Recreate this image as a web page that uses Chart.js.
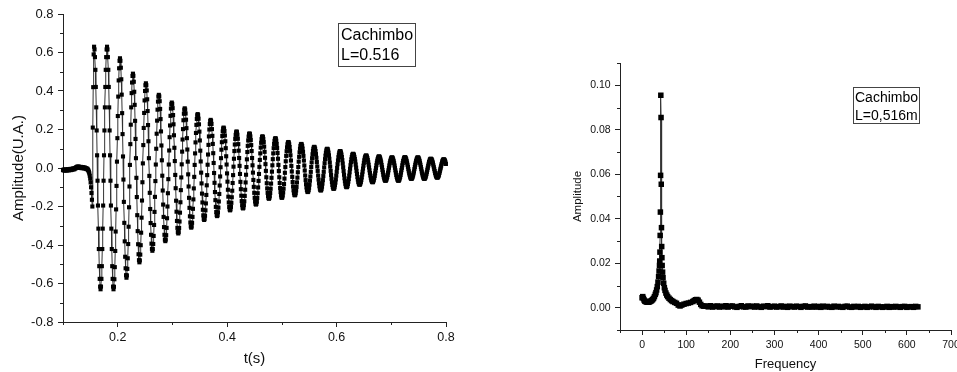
<!DOCTYPE html>
<html><head><meta charset="utf-8">
<script src="https://cdn.jsdelivr.net/npm/chart.js@4.4.0/dist/chart.umd.min.js"></script>
<style>
html,body{margin:0;padding:0;background:#fff;overflow:hidden;width:957px;height:372px}
#c1{position:absolute;left:0;top:0;width:480px;height:372px}
#c2{position:absolute;left:480px;top:0;width:477px;height:372px}
</style></head><body>
<canvas id="c1" width="480" height="372"></canvas>
<canvas id="c2" width="477" height="372"></canvas>
<script>
// ---------- time-domain signal (left) ----------
const SAMPLE_START = 0.1;      // s
const SAMPLE_STEP = 0.000789;  // s
const preTriggerAmp = [
-0.010,-0.012,-0.008,-0.011,-0.014,-0.010,-0.007,-0.012,-0.009,-0.011,
-0.013,-0.008,-0.006,-0.010,-0.012,-0.009,-0.005,-0.008,-0.011,-0.007,
-0.004,-0.006,-0.009,-0.005,-0.002,-0.004,-0.007,-0.003,0.000,-0.002,
0.002,0.004,0.001,0.006,0.008,0.005,0.003,0.007,0.004,0.001,
0.003,0.006,0.002,-0.001,0.002,0.005,0.003,0.000,-0.002,0.001,
0.003,0.000,-0.003,-0.001,-0.004,-0.006,-0.003,-0.007,-0.010,-0.014,
-0.020,-0.028,-0.040,-0.055,-0.075,-0.100,-0.130,-0.165,-0.200,0.210,0.420,0.590];
const ringAmp = [
0.63,0.616,0.576,0.51,0.421,0.315,0.195,0.066,-0.066,-0.195,-0.315,-0.421,-0.51,-0.576,-0.616,
-0.63,-0.616,-0.576,-0.51,-0.421,-0.315,-0.195,-0.066,0.066,0.195,0.315,0.421,0.51,0.576,0.616,
0.63,0.616,0.576,0.51,0.421,0.315,0.195,0.066,-0.066,-0.195,-0.315,-0.421,-0.51,-0.576,-0.616,
-0.63,-0.617,-0.578,-0.515,-0.431,-0.33,-0.215,-0.093,0.033,0.155,0.27,0.371,0.455,0.518,0.557,
0.57,0.557,0.521,0.461,0.381,0.285,0.176,0.06,-0.06,-0.176,-0.285,-0.381,-0.461,-0.521,-0.557,
-0.57,-0.558,-0.524,-0.469,-0.395,-0.305,-0.204,-0.096,0.016,0.124,0.225,0.315,0.389,0.444,0.478,
0.49,0.479,0.448,0.396,0.328,0.245,0.151,0.051,-0.051,-0.151,-0.245,-0.328,-0.396,-0.448,-0.479,
-0.49,-0.48,-0.45,-0.401,-0.336,-0.258,-0.169,-0.074,0.024,0.119,0.208,0.286,0.351,0.4,0.43,
0.44,0.43,0.403,0.357,0.296,0.223,0.139,0.051,-0.041,-0.129,-0.213,-0.286,-0.347,-0.393,-0.42,
-0.43,-0.421,-0.395,-0.353,-0.296,-0.228,-0.15,-0.068,0.018,0.1,0.178,0.246,0.303,0.345,0.371,
0.38,0.372,0.347,0.307,0.254,0.19,0.117,0.04,-0.04,-0.117,-0.19,-0.254,-0.307,-0.347,-0.372,
-0.38,-0.372,-0.349,-0.311,-0.261,-0.2,-0.131,-0.058,0.018,0.091,0.16,0.221,0.271,0.309,0.332,
0.34,0.333,0.311,0.275,0.227,0.17,0.105,0.036,-0.036,-0.105,-0.17,-0.227,-0.275,-0.311,-0.333,
-0.34,-0.333,-0.312,-0.278,-0.232,-0.178,-0.115,-0.049,0.019,0.085,0.148,0.202,0.248,0.282,0.303,
0.31,0.303,0.283,0.251,0.207,0.155,0.096,0.033,-0.033,-0.096,-0.155,-0.207,-0.251,-0.283,-0.303,
-0.31,-0.304,-0.285,-0.254,-0.212,-0.163,-0.106,-0.046,0.016,0.076,0.133,0.182,0.224,0.255,0.274,
0.28,0.274,0.256,0.227,0.189,0.143,0.09,0.034,-0.024,-0.08,-0.133,-0.179,-0.217,-0.246,-0.264,
-0.27,-0.264,-0.248,-0.22,-0.184,-0.14,-0.09,-0.037,0.017,0.07,0.12,0.164,0.2,0.228,0.244,
0.25,0.245,0.229,0.202,0.167,0.125,0.077,0.026,-0.026,-0.077,-0.125,-0.167,-0.202,-0.229,-0.245,
-0.25,-0.245,-0.23,-0.206,-0.174,-0.135,-0.091,-0.044,0.004,0.051,0.095,0.134,0.166,0.19,0.205,
0.21,0.205,0.192,0.169,0.139,0.103,0.061,0.018,-0.028,-0.071,-0.113,-0.149,-0.179,-0.202,-0.215,
-0.22,-0.215,-0.202,-0.181,-0.152,-0.118,-0.078,-0.037,0.007,0.048,0.088,0.122,0.151,0.172,0.185,
0.19,0.186,0.173,0.152,0.124,0.09,0.052,0.011,-0.031,-0.072,-0.11,-0.144,-0.172,-0.193,-0.206,
-0.21,-0.206,-0.193,-0.173,-0.145,-0.113,-0.075,-0.035,0.005,0.045,0.083,0.115,0.143,0.163,0.176,
0.18,0.176,0.164,0.145,0.119,0.088,0.052,0.014,-0.024,-0.062,-0.098,-0.129,-0.155,-0.174,-0.186,
-0.19,-0.186,-0.175,-0.156,-0.131,-0.101,-0.067,-0.031,0.006,0.042,0.076,0.106,0.131,0.15,0.161,
0.165,0.161,0.151,0.134,0.111,0.084,0.053,0.02,-0.015,-0.048,-0.079,-0.106,-0.129,-0.146,-0.156,
-0.16,-0.156,-0.147,-0.13,-0.108,-0.081,-0.051,-0.019,0.014,0.046,0.076,0.103,0.125,0.141,0.151,
0.155,0.152,0.142,0.125,0.104,0.078,0.048,0.016,-0.016,-0.048,-0.078,-0.104,-0.125,-0.142,-0.152,
-0.155,-0.152,-0.143,-0.127,-0.107,-0.083,-0.055,-0.025,0.005,0.035,0.063,0.087,0.107,0.123,0.132,
0.135,0.132,0.123,0.109,0.089,0.066,0.039,0.011,-0.018,-0.046,-0.073,-0.096,-0.116,-0.13,-0.139,
-0.142,-0.139,-0.131,-0.117,-0.098,-0.075,-0.05,-0.022,0.005,0.033,0.058,0.081,0.1,0.114,0.122,
0.125,0.122,0.114,0.101,0.084,0.063,0.039,0.013,-0.013,-0.039,-0.063,-0.084,-0.101,-0.114,-0.122,
-0.125,-0.122,-0.115,-0.103,-0.086,-0.066,-0.044,-0.02,0.005,0.029,0.051,0.071,0.088,0.1,0.107,
0.11,0.107,0.1,0.088,0.072,0.053,0.031,0.008,-0.015,-0.039,-0.06,-0.079,-0.095,-0.107,-0.114,
-0.117,-0.115,-0.108,-0.097,-0.081,-0.063,-0.042,-0.02,0.003,0.025,0.046,0.064,0.079,0.091,0.098,
0.1,0.098,0.091,0.08,0.066,0.048,0.028,0.007,-0.015,-0.036,-0.056,-0.074,-0.088,-0.099,-0.106,
-0.108,-0.106,-0.1,-0.089,-0.076,-0.059,-0.04,-0.02,0,0.02,0.039,0.056,0.069,0.08,0.086,
0.088,0.086,0.08,0.07,0.057,0.041,0.023,0.004,-0.016,-0.035,-0.053,-0.069,-0.082,-0.092,-0.098,
-0.1,-0.098,-0.093,-0.083,-0.071,-0.057,-0.04,-0.022,-0.004,0.014,0.031,0.045,0.057,0.067,0.072,
0.074,0.072,0.067,0.058,0.047,0.034,0.018,0.002,-0.015,-0.031,-0.047,-0.06,-0.072,-0.08,-0.085,
-0.087,-0.085,-0.08,-0.072,-0.062,-0.049,-0.034,-0.019,-0.003,0.012,0.027,0.04,0.05,0.058,0.063,
0.065,0.064,0.059,0.052,0.042,0.03,0.017,0.003,-0.012,-0.026,-0.039,-0.051,-0.061,-0.068,-0.072,
-0.074,-0.073,-0.068,-0.061,-0.052,-0.041,-0.028,-0.014,0,0.014,0.027,0.038,0.047,0.054,0.059,
0.06,0.059,0.055,0.048,0.039,0.029,0.016,0.004,-0.01,-0.022,-0.035,-0.045,-0.054,-0.061,-0.065,
-0.066,-0.065,-0.061,-0.054,-0.046,-0.036,-0.024,-0.012,0.001,0.013,0.025,0.035,0.043,0.05,0.054,
0.055,0.054,0.05,0.043,0.035,0.025,0.013,0.001,-0.012,-0.024,-0.036,-0.046,-0.054,-0.061,-0.065,
-0.066,-0.065,-0.061,-0.054,-0.046,-0.036,-0.024,-0.011,0.001,0.014,0.026,0.036,0.044,0.051,0.055,
0.056,0.055,0.051,0.045,0.037,0.028,0.017,0.006,-0.006,-0.017,-0.028,-0.037,-0.045,-0.051,-0.055,
-0.056,-0.055,-0.051,-0.045,-0.038,-0.028,-0.018,-0.006,0.005,0.017,0.027,0.037,0.044,0.05,0.054,
0.055,0.054,0.05,0.044,0.037,0.027,0.017,0.005,-0.006,-0.018,-0.028,-0.038,-0.045,-0.051,-0.055,
-0.056,-0.055,-0.052,-0.046,-0.039,-0.03,-0.02,-0.009,0.001,0.012,0.022,0.031,0.038,0.044,0.047,
0.048,0.047,0.044,0.039,0.032,0.024,0.014,0.004,-0.006,-0.016,-0.026,-0.034,-0.041,-0.046,-0.049,
-0.05,-0.049,-0.046,-0.041,-0.035,-0.026,-0.017,-0.007,0.002,0.012,0.021,0.029,0.036,0.041,0.044,
0.045,0.044,0.041,0.036,0.029,0.021];

// ---------- spectrum (right) ----------
const fftFreq = [0,1.5,3,4.5,6,
8,10,12,14,16,18,20,22,24,26,28,30,
31.5,33,34.5,36,37.5,38.5,39.5,
40,40.5,41,41.5,42,42.5,43,43.5,44,44.5,45,45.5,
46.5,47.5,49,50.5,52,54,56,58,
61,64,67,70,74,78,82,86,
90,95,100,105,110,115,118,121,124,127,130,133,136,140,
145,150,155,160,165,170,175,180,185,190,
195,200,205,210,215,220,225,230,235,240,
245,250,255,260,265,270,275,280,285,290,
295,300,305,310,315,320,325,330,335,340,
345,350,355,360,365,370,375,380,385,390,
395,400,405,410,415,420,425,430,435,440,
445,450,455,460,465,470,475,480,485,490,
495,500,505,510,515,520,525,530,535,540,
545,550,555,560,565,570,575,580,585,590,
595,600,605,610,615,620,625];
const fftAmp = [0.0045,0.005,0.0042,0.0035,0.003,
0.0028,0.0026,0.0025,0.0025,0.0026,0.0028,0.003,0.0033,0.0037,0.0042,0.005,0.006,
0.0068,0.008,0.0095,0.0115,0.014,0.0165,0.019,
0.021,0.025,0.0325,0.043,0.0595,0.0955,0.0855,0.0555,0.036,0.0275,0.0225,0.019,
0.016,0.0135,0.011,0.009,0.0078,0.0066,0.0057,0.005,
0.0043,0.0037,0.0032,0.0028,0.0024,0.002,0.0012,0.0008,
0.0012,0.0016,0.0019,0.0021,0.0024,0.0028,0.0032,0.0036,0.0037,0.0034,0.0025,0.0015,0.0009,0.0007,
0.0008,0.0004,0.0009,0.0003,0.0006,0.0008,0.0003,0.0007,0.0004,0.0009,
0.0003,0.0007,0.0008,0.0004,0.0002,0.0006,0.0009,0.0004,0.0003,0.0008,
0.0005,0.0007,0.0003,0.0008,0.0004,0.0002,0.0007,0.0005,0.0009,0.0003,
0.0005,0.0007,0.0003,0.0005,0.0008,0.0003,0.0006,0.0002,0.0007,0.0005,
0.0003,0.0007,0.0005,0.0002,0.0006,0.0008,0.0003,0.0005,0.0003,0.0007,
0.0003,0.0006,0.0002,0.0007,0.0004,0.0006,0.0003,0.0002,0.0007,0.0004,
0.0006,0.0003,0.0002,0.0006,0.0007,0.0003,0.0002,0.0006,0.0004,0.0006,
0.0002,0.0004,0.0006,0.0002,0.0004,0.0007,0.0004,0.0002,0.0006,0.0004,
0.0002,0.0004,0.0006,0.0002,0.0005,0.0003,0.0006,0.0004,0.0002,0.0005,
0.0006,0.0002,0.0004,0.0005,0.0002,0.0006,0.0004];

// ---------- ticks ----------
const leftXTicks = [0.2,0.4,0.6,0.8];
const leftXMinor = [0.1,0.3,0.5,0.7];
const leftYTicks = [-0.8,-0.6,-0.4,-0.2,0,0.2,0.4,0.6,0.8];
const leftYMinor = [-0.7,-0.5,-0.3,-0.1,0.1,0.3,0.5,0.7];
const rightXTicks = [0,100,200,300,400,500,600,700];
const rightXMinor = [-50,50,150,250,350,450,550,650];
const rightYTicks = [0,0.02,0.04,0.06,0.08,0.10];
const rightYMinor = [-0.01,0.01,0.03,0.05,0.07,0.09,0.11];
const leftNote = ['Cachimbo','L=0.516'];
const rightNote = ['Cachimbo','L=0,516m'];

const FONT = "'Liberation Sans', Arial, sans-serif";
const AX = '#222';

const timeAmp = preTriggerAmp.concat(ringAmp);
const timePoints = timeAmp.map((v, i) => ({x: SAMPLE_START + i * SAMPLE_STEP, y: v}));
const fftPoints = fftFreq.map((f, i) => ({x: f, y: fftAmp[i]}));

const extras = {
  id: 'extras',
  afterDraw(chart, args, o) {
    const ctx = chart.ctx, xs = chart.scales.x, ys = chart.scales.y;
    ctx.save();
    ctx.strokeStyle = AX; ctx.lineWidth = 1;
    ctx.beginPath();
    o.xMinor.forEach(v => { const p = Math.round(xs.getPixelForValue(v)) + 0.5; ctx.moveTo(p, xs.top); ctx.lineTo(p, xs.top + o.minorLen); });
    o.yMinor.forEach(v => { const p = Math.round(ys.getPixelForValue(v)) + 0.5; ctx.moveTo(ys.right, p); ctx.lineTo(ys.right - o.minorLen, p); });
    ctx.stroke();
    const b = o.box;
    ctx.fillStyle = '#fff';
    ctx.fillRect(b.x, b.y, b.w, b.h);
    ctx.strokeStyle = '#444';
    ctx.strokeRect(b.x + 0.5, b.y + 0.5, b.w, b.h);
    ctx.fillStyle = '#000';
    ctx.font = b.size + 'px ' + FONT;
    ctx.textBaseline = 'alphabetic';
    o.lines.forEach((t, i) => ctx.fillText(t, b.tx, b.baseline[i]));
    ctx.restore();
  }
};

function fixW(w) { return s => { s.width = w; s.paddingTop = 0; s.paddingBottom = 0; }; }
function fixH(h) { return s => { s.height = h; s.paddingLeft = 0; s.paddingRight = 0; }; }
function setTicks(arr) { return s => { s.ticks = arr.map(v => ({value: v})); }; }

function makeChart(id, cfg) {
  return new Chart(document.getElementById(id), {
    type: 'scatter',
    data: { datasets: [{
      data: cfg.points, showLine: true, borderColor: '#333', borderWidth: 1,
      pointStyle: 'rect', pointRadius: cfg.pr, pointHoverRadius: cfg.pr,
      pointBackgroundColor: '#000', pointBorderColor: '#000', pointBorderWidth: 0, clip: 6
    }]},
    options: {
      responsive: false, animation: false, events: [],
      layout: { padding: cfg.pad },
      plugins: { legend: {display: false}, tooltip: {enabled: false},
        extras: { xMinor: cfg.xMinor, yMinor: cfg.yMinor, minorLen: 3, lines: cfg.note, box: cfg.box } },
      scales: {
        x: { type: 'linear', min: cfg.xMin, max: cfg.xMax,
          afterBuildTicks: setTicks(cfg.xTicks), afterFit: fixH(cfg.xH),
          grid: { drawOnChartArea: false, drawTicks: true, tickLength: 5, color: AX, lineWidth: 1 },
          border: { display: true, color: AX, width: 1 },
          ticks: { maxRotation: 0, autoSkip: false, padding: cfg.xPad, color: '#111', font: {family: FONT, size: cfg.xFont}, callback: cfg.xFmt },
          title: { display: true, text: cfg.xTitle, color: '#111', font: {family: FONT, size: cfg.xTitleSize}, padding: {top: 0, bottom: cfg.xTitlePad} }
        },
        y: { type: 'linear', min: cfg.yMin, max: cfg.yMax,
          afterBuildTicks: setTicks(cfg.yTicks), afterFit: fixW(cfg.yW),
          grid: { drawOnChartArea: false, drawTicks: true, tickLength: 5, color: AX, lineWidth: 1 },
          border: { display: true, color: AX, width: 1 },
          ticks: { padding: cfg.yPad, color: '#111', font: {family: FONT, size: cfg.yFont}, callback: cfg.yFmt },
          title: { display: true, text: cfg.yTitle, color: '#111', font: {family: FONT, size: cfg.yTitleSize}, padding: {top: cfg.yTitlePad, bottom: 0} }
        }
      }
    },
    plugins: [extras]
  });
}

makeChart('c1', {
  points: timePoints, pr: 2.9,
  pad: {left: 0, top: 14, right: 34, bottom: 0},
  xMin: 0.1, xMax: 0.8, yMin: -0.8, yMax: 0.8,
  xTicks: leftXTicks, yTicks: leftYTicks, xMinor: leftXMinor, yMinor: leftYMinor,
  xH: 50, yW: 63, xPad: 3, yPad: 4.5, xFont: 12.5, yFont: 13,
  xFmt: v => v.toFixed(1), yFmt: v => v.toFixed(1),
  xTitle: 't(s)', xTitleSize: 15, xTitlePad: 4,
  yTitle: 'Amplitude(U.A.)', yTitleSize: 15, yTitlePad: 10,
  note: leftNote, box: {x: 338, y: 23, w: 77, h: 43, size: 16, tx: 341, baseline: [40, 60]}
});

makeChart('c2', {
  points: fftPoints, pr: 3.9,
  pad: {left: 0, top: 63, right: 6, bottom: 0},
  xMin: -50, xMax: 700, yMin: -0.01, yMax: 0.11,
  xTicks: rightXTicks, yTicks: rightYTicks, xMinor: rightXMinor, yMinor: rightYMinor,
  xH: 42, yW: 140, xPad: 4, yPad: 4.3, xFont: 10.5, yFont: 10.5,
  xFmt: v => String(Math.round(v)), yFmt: v => v.toFixed(2),
  xTitle: 'Frequency', xTitleSize: 13, xTitlePad: 0,
  yTitle: 'Amplitude', yTitleSize: 11.5, yTitlePad: 91,
  note: rightNote, box: {x: 373, y: 87, w: 66, h: 36, size: 14, tx: 375, baseline: [102, 120]}
});
</script></body></html>
